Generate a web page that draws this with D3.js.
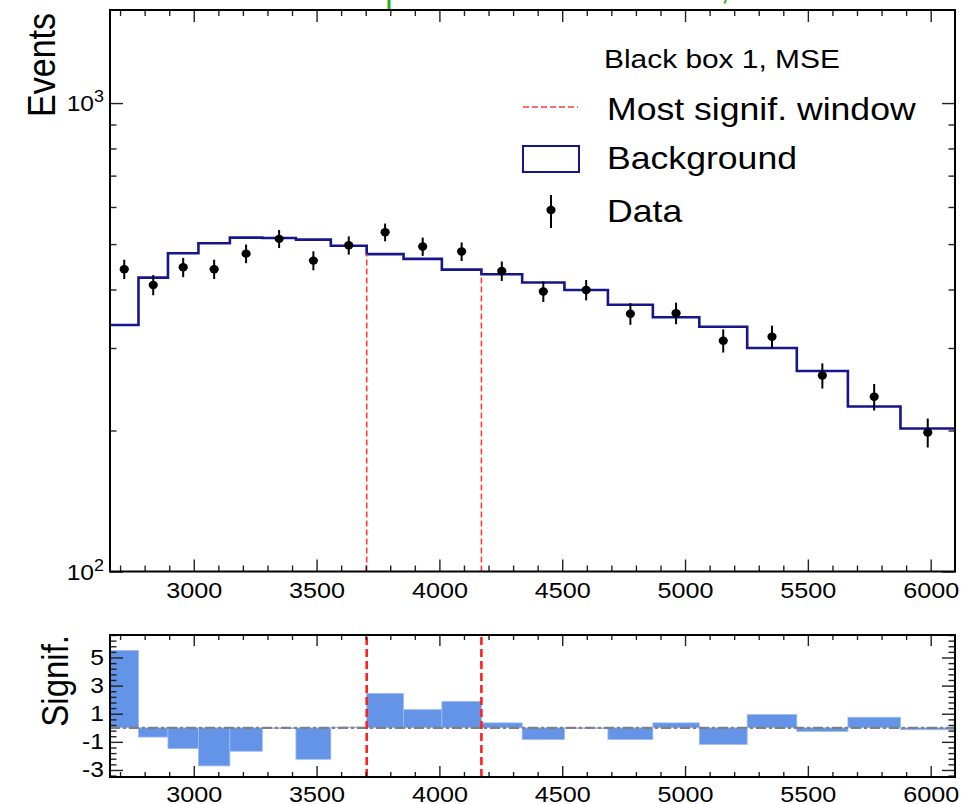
<!DOCTYPE html>
<html>
<head>
<meta charset="utf-8">
<script src="https://cdn.jsdelivr.net/npm/d3@7"></script>
<style>
  body { margin: 0; background: #fff; }
  text { font-family: "Liberation Sans", Arial, sans-serif; fill: #000; }
</style>
</head>
<body>
<div id="vis"></div>
<script>
// dijet mass bins (GeV)
var binEdges = [2659, 2775, 2895, 3019, 3147, 3279, 3416, 3558, 3704, 3854, 4010,
                4171, 4337, 4509, 4686, 4869, 5058, 5253, 5455, 5663, 5877, 6099];
var background = [336, 424, 478, 502, 516, 515, 511, 496, 476, 465, 441,
                  431, 414, 399, 371, 349, 333, 300, 268, 225, 202];
var dataCounts = [442, 409, 446, 442, 477, 513, 461, 497, 530, 494, 482,
                  438, 396, 399, 355, 356, 311, 317, 262, 236, 198];
var signif = [5.5, -0.66, -1.48, -2.71, -1.67, -0.05, -2.24, 0.05, 2.44, 1.29, 1.88,
              0.35, -0.83, -0.05, -0.83, 0.35, -1.18, 0.94, -0.26, 0.75, -0.14];
var windowEdges = [3704, 4171];
var xTicks = [3000, 3500, 4000, 4500, 5000, 5500, 6000];
var yTicksTop = [100, 1000];
var yTicksBottom = [-3, -1, 1, 3, 5];

var width = 972;
var height = 804;
var sx = 1.12;   // the picture is a bit wider than tall
var font = '"Liberation Sans", Arial, sans-serif';

var svg = d3.select('#vis').append('svg')
    .attr('width', width)
    .attr('height', height);

var top_ = {left: 110, right: 955, top: 10, bottom: 571.5, pad: 11};
var bot = {left: 110, right: 955, top: 635, bottom: 777, pad: 9};

var x = d3.scaleLinear().domain([binEdges[0], binEdges[binEdges.length - 1]]).range([top_.left, top_.right]);
var yTop = d3.scaleLog().domain([100, 1580]).range([top_.bottom, top_.top]);
var yBot = d3.scaleLinear().domain([-3.5, 6.6]).range([bot.bottom, bot.top]);

var xMinor = d3.range(2700, 6100, 100).filter(function(v){ return v % 500 != 0; });
var yMinorTop = [200, 300, 400, 500, 600, 700, 800, 900];
var yMinorBot = d3.range(-3.4, 6.61, 0.4).map(function(v){ return Math.round(v*10)/10; })
    .filter(function(v){ return yTicksBottom.indexOf(v) < 0; });

// green title, only its lower edge shows above the frame
svg.append('text').attr('x', 389).attr('y', 2).attr('text-anchor', 'middle')
    .style('font-size', '36px').style('fill', '#22b022').text('|');
svg.append('text').attr('x', 725).attr('y', -1).attr('text-anchor', 'middle')
    .style('font-size', '36px').style('fill', '#22b022').text(',');

function tickAxis(g, axis) {
    g.call(axis);
    g.select('.domain').remove();
    g.selectAll('line').attr('stroke', '#222').attr('stroke-width', 1.4);
    return g;
}

function xAxes(p, major, minor) {
    // bottom
    var gb = tickAxis(svg.append('g').attr('transform', 'translate(0,' + p.bottom + ')'),
        d3.axisBottom(x).tickValues(xTicks).tickSize(-major).tickSizeOuter(0)
            .tickPadding(p.pad).tickFormat(d3.format('d')));
    gb.selectAll('text').style('font-size', '22.5px').style('font-family', font)
        .attr('transform', 'scale(' + sx + ',1)');
    tickAxis(svg.append('g').attr('transform', 'translate(0,' + p.bottom + ')'),
        d3.axisBottom(x).tickValues(xMinor).tickSize(-minor).tickSizeOuter(0).tickFormat(''));
    // top mirror
    tickAxis(svg.append('g').attr('transform', 'translate(0,' + p.top + ')'),
        d3.axisTop(x).tickValues(xTicks).tickSize(-major).tickSizeOuter(0).tickFormat(''));
    tickAxis(svg.append('g').attr('transform', 'translate(0,' + p.top + ')'),
        d3.axisTop(x).tickValues(xMinor).tickSize(-minor).tickSizeOuter(0).tickFormat(''));
}

function yAxes(p, y, major, majorVals, minorVals) {
    tickAxis(svg.append('g').attr('transform', 'translate(' + p.left + ',0)'),
        d3.axisLeft(y).tickValues(majorVals).tickSize(-major).tickSizeOuter(0).tickFormat(''));
    tickAxis(svg.append('g').attr('transform', 'translate(' + p.left + ',0)'),
        d3.axisLeft(y).tickValues(minorVals).tickSize(-major/2).tickSizeOuter(0).tickFormat(''));
    tickAxis(svg.append('g').attr('transform', 'translate(' + p.right + ',0)'),
        d3.axisRight(y).tickValues(majorVals).tickSize(-major).tickSizeOuter(0).tickFormat(''));
    tickAxis(svg.append('g').attr('transform', 'translate(' + p.right + ',0)'),
        d3.axisRight(y).tickValues(minorVals).tickSize(-major/2).tickSizeOuter(0).tickFormat(''));
}

// ---------- top panel ----------
var topG = svg.append('g');

// background histogram
var stepPts = background.map(function(b, i){ return [binEdges[i], b]; });
stepPts.push([binEdges[binEdges.length - 1], background[background.length - 1]]);
topG.append('path')
    .datum(stepPts)
    .attr('fill', 'none')
    .attr('stroke', '#16168c')
    .attr('stroke-width', 2.6)
    .attr('d', d3.line().curve(d3.curveStepAfter)
        .x(function(d){ return x(d[0]); })
        .y(function(d){ return yTop(d[1]); }));

// most significant window lines, up to the background level
topG.selectAll('line.win')
    .data(windowEdges)
    .enter().append('line')
    .attr('class', 'win')
    .attr('x1', function(d){ return x(d); })
    .attr('x2', function(d){ return x(d); })
    .attr('y1', top_.bottom)
    .attr('y2', function(d){ return yTop(background[binEdges.indexOf(d)]); })
    .attr('stroke', '#ff3b3b')
    .attr('stroke-width', 1.6)
    .attr('stroke-dasharray', '6,3');

// data points
var pts = topG.selectAll('g.pt')
    .data(dataCounts)
    .enter().append('g')
    .attr('class', 'pt')
    .attr('transform', function(d, i){
        return 'translate(' + x((binEdges[i] + binEdges[i+1]) / 2) + ',0)';
    });
pts.append('line')
    .attr('y1', function(d){ return yTop(d - Math.sqrt(d)); })
    .attr('y2', function(d){ return yTop(d + Math.sqrt(d)); })
    .attr('stroke', '#000').attr('stroke-width', 2);
pts.append('ellipse')
    .attr('cy', function(d){ return yTop(d); })
    .attr('rx', 4.6).attr('ry', 4.2)
    .attr('fill', '#000');

xAxes(top_, 12, 6);
yAxes(top_, yTop, 13, yTicksTop, yMinorTop);

svg.append('rect')
    .attr('x', top_.left).attr('y', top_.top)
    .attr('width', top_.right - top_.left).attr('height', top_.bottom - top_.top)
    .attr('fill', 'none').attr('stroke', '#000').attr('stroke-width', 2);

// 10^n labels
yTicksTop.forEach(function(v){
    var t = svg.append('g')
        .attr('transform', 'translate(104,' + (yTop(v) + 8) + ') scale(' + sx + ',1)')
        .append('text').attr('text-anchor', 'end').style('font-size', '22px');
    t.append('tspan').text('10');
    t.append('tspan').attr('dy', -9).style('font-size', '16px').text(String(Math.round(Math.log10(v))));
});

svg.append('g')
    .attr('transform', 'translate(55,13) scale(' + sx + ',1) rotate(-90)')
    .append('text').attr('text-anchor', 'end').style('font-size', '34px').text('Events');

// legend
function legendText(xp, yp, size, s) {
    svg.append('g').attr('transform', 'translate(' + xp + ',' + yp + ') scale(' + sx + ',1)')
        .append('text').style('font-size', size + 'px').text(s);
}
legendText(604, 68, 26.7, 'Black box 1, MSE');
svg.append('line').attr('x1', 523).attr('x2', 578).attr('y1', 107).attr('y2', 107)
    .attr('stroke', '#ff3b3b').attr('stroke-width', 1.6).attr('stroke-dasharray', '6,3');
legendText(607, 120, 31.8, 'Most signif. window');
svg.append('rect').attr('x', 523).attr('y', 146).attr('width', 56).attr('height', 26)
    .attr('fill', 'none').attr('stroke', '#16168c').attr('stroke-width', 2);
legendText(607, 169, 31.8, 'Background');
svg.append('line').attr('x1', 551).attr('x2', 551).attr('y1', 195).attr('y2', 228)
    .attr('stroke', '#000').attr('stroke-width', 2);
svg.append('ellipse').attr('cx', 551).attr('cy', 210).attr('rx', 4.6).attr('ry', 4.2).attr('fill', '#000');
legendText(607, 222, 31.8, 'Data');

// ---------- bottom panel ----------
var botG = svg.append('g');
botG.selectAll('rect.sig')
    .data(signif)
    .enter().append('rect')
    .attr('class', 'sig')
    .attr('x', function(d, i){ return x(binEdges[i]); })
    .attr('width', function(d, i){ return x(binEdges[i+1]) - x(binEdges[i]); })
    .attr('y', function(d){ return yBot(Math.max(0, d)); })
    .attr('height', function(d){ return Math.abs(yBot(d) - yBot(0)); })
    .attr('fill', '#6394e8')
    .attr('stroke', '#9dbcf2')
    .attr('stroke-width', 0.8);

botG.append('line')
    .attr('x1', bot.left).attr('x2', bot.right)
    .attr('y1', yBot(0)).attr('y2', yBot(0))
    .attr('stroke', '#808080').attr('stroke-width', 2.2)
    .attr('stroke-dasharray', '10,3,3,3');

botG.selectAll('line.win')
    .data(windowEdges)
    .enter().append('line')
    .attr('class', 'win')
    .attr('x1', function(d){ return x(d); })
    .attr('x2', function(d){ return x(d); })
    .attr('y1', bot.bottom).attr('y2', bot.top)
    .attr('stroke', '#ff2020')
    .attr('stroke-width', 2.6)
    .attr('stroke-dasharray', '8,4');

xAxes(bot, 11, 5);
yAxes(bot, yBot, 13, yTicksBottom, yMinorBot);

svg.append('rect')
    .attr('x', bot.left).attr('y', bot.top)
    .attr('width', bot.right - bot.left).attr('height', bot.bottom - bot.top)
    .attr('fill', 'none').attr('stroke', '#000').attr('stroke-width', 2);

yTicksBottom.forEach(function(v){
    svg.append('g')
        .attr('transform', 'translate(104,' + (yBot(v) + 7.5) + ') scale(' + sx + ',1)')
        .append('text').attr('text-anchor', 'end').style('font-size', '22px').text(v);
});

svg.append('g')
    .attr('transform', 'translate(68,635) scale(' + sx + ',1) rotate(-90)')
    .append('text').attr('text-anchor', 'end').style('font-size', '33px').text('Signif.');
</script>
</body>
</html>
